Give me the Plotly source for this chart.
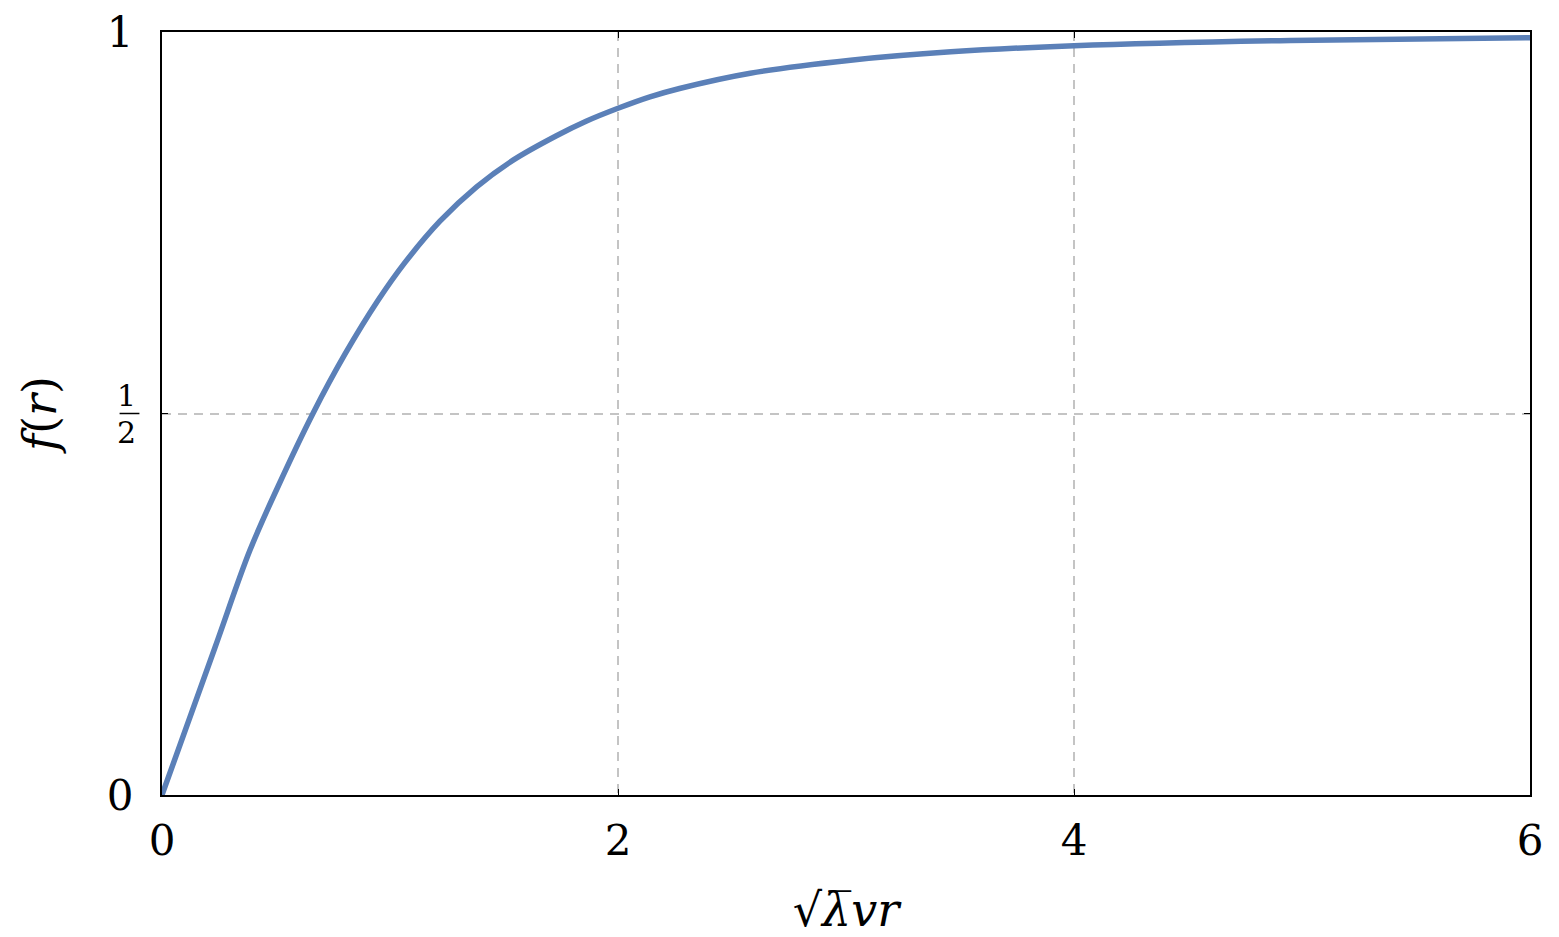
import plotly.graph_objects as go

# Data
r_vals = [0, 0.232, 0.386, 0.51, 0.662, 0.803, 0.947, 1.066, 1.219, 1.38, 1.54,
          1.73, 1.86, 2.0, 2.14, 2.27, 2.58, 3.02, 3.46, 4.0, 4.95, 6.0]
f_vals = [0, 0.193, 0.321, 0.405, 0.5, 0.578, 0.648, 0.698, 0.752, 0.797, 0.832,
          0.864, 0.883, 0.900, 0.915, 0.926, 0.946, 0.963, 0.974, 0.982, 0.989, 0.9925]

x_ticks = [0, 2, 4, 6]
x_ticktext = ["0", "2", "4", "6"]
y_ticks = [0, 0.5, 1]
y_ticktext = ["0", "", "1"]

FONT = "DejaVu Serif"
LINE_COLOR = "#5b80b8"
GRID_COLOR = "#c4c4c4"

fig = go.Figure()
fig.add_trace(go.Scatter(x=r_vals, y=f_vals, mode="lines",
                         line=dict(color=LINE_COLOR, width=5.5, shape="spline", smoothing=1.0),
                         hoverinfo="skip", showlegend=False))

fig.update_layout(
    width=1559, height=937,
    margin=dict(l=162, r=29, t=32, b=142, autoexpand=False),
    paper_bgcolor="white", plot_bgcolor="white",
    font=dict(family=FONT, color="black", size=42),
    xaxis=dict(range=[0, 6], tickvals=x_ticks, ticktext=x_ticktext, automargin=False,
               showline=True, linecolor="black", linewidth=2, mirror="ticks",
               ticks="inside", ticklen=6, tickcolor="black", tickwidth=1,
               showgrid=True, gridcolor=GRID_COLOR, gridwidth=1.5, griddash="9px,7px",
               zeroline=False, tickfont=dict(size=42), ticklabelstandoff=8,
               title=dict(text="√<i>λ̅vr</i>",
                          font=dict(size=46), standoff=40)),
    yaxis=dict(range=[0, 1], tickvals=y_ticks, ticktext=y_ticktext, automargin=False,
               showline=True, linecolor="black", linewidth=2, mirror="ticks",
               ticks="inside", ticklen=6, tickcolor="black", tickwidth=1,
               showgrid=True, gridcolor=GRID_COLOR, gridwidth=1.5, griddash="9px,7px",
               zeroline=False, tickfont=dict(size=42), ticklabelstandoff=18,
               title=dict(text="<i>f</i>(<i>r</i>)", font=dict(size=46), standoff=36)),
)

# stacked fraction 1/2 as tick label at y = 0.5
fig.add_annotation(x=0, xref="paper", y=0.5, yref="y", text="1", showarrow=False,
                   xanchor="right", xshift=-24, yshift=18, font=dict(size=30, family=FONT))
fig.add_annotation(x=0, xref="paper", y=0.5, yref="y", text="2", showarrow=False,
                   xanchor="right", xshift=-24, yshift=-19, font=dict(size=30, family=FONT))
fig.add_shape(type="line", xref="paper", yref="y", x0=-0.031, x1=-0.0165, y0=0.5, y1=0.5,
              line=dict(color="black", width=1.5))

fig.write_html("out.html")
